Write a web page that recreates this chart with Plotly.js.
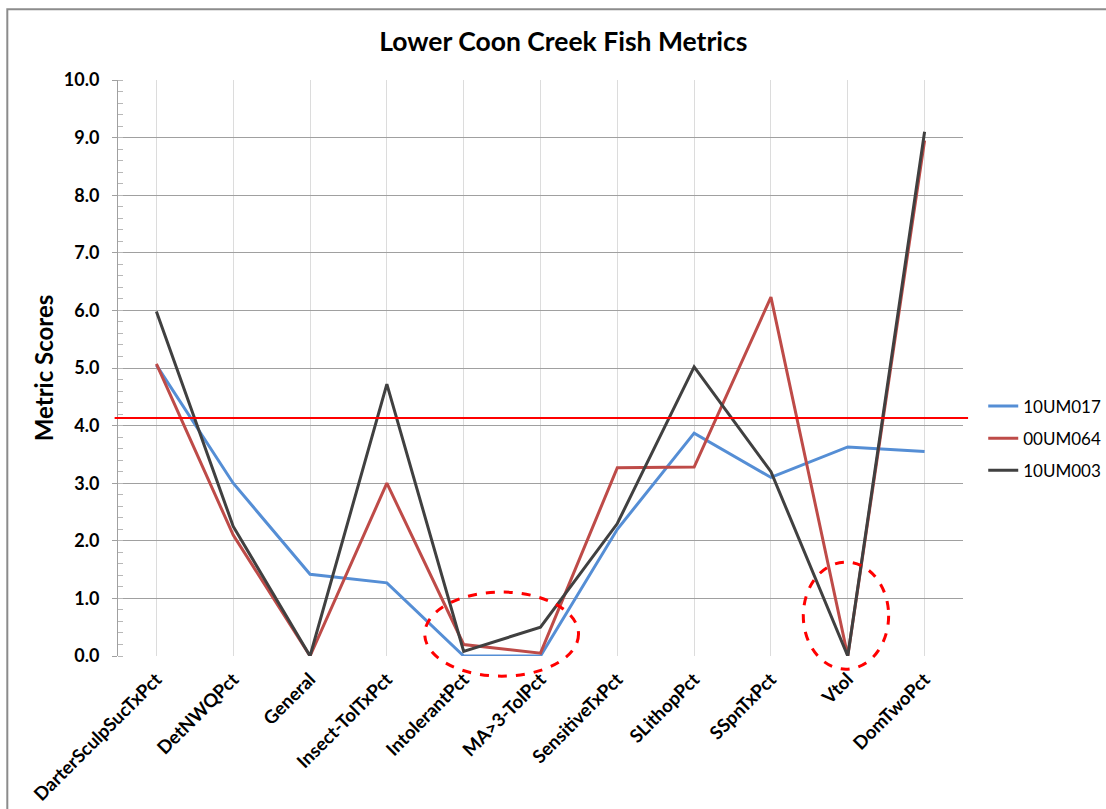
<!DOCTYPE html>
<html>
<head>
<meta charset="utf-8">
<script src="https://cdn.plot.ly/plotly-3.0.1.min.js"></script>
<style>html,body{margin:0;padding:0;background:#fff;}#chart{width:1106px;height:809px;}</style>
</head>
<body>
<div id="chart"></div>
<script>
const categories = ["DarterSculpSucTxPct","DetNWQPct","General","Insect-TolTxPct","IntolerantPct","MA>3-TolPct","SensitiveTxPct","SLithopPct","SSpnTxPct","Vtol","DomTwoPct"];
const s10UM017 = [5.05, 3.0, 1.42, 1.27, 0.0, 0.0, 2.2, 3.87, 3.1, 3.63, 3.55];
const s00UM064 = [5.07, 2.1, 0.0, 3.0, 0.2, 0.05, 3.27, 3.28, 6.23, 0.0, 8.95];
const s10UM003 = [5.98, 2.25, 0.0, 4.72, 0.08, 0.5, 2.3, 5.02, 3.2, 0.0, 9.1];
const seriesNames = ["10UM017","00UM064","10UM003"];
const threshold = 4.13;

const FONT = "Lato, 'Open Sans', sans-serif";
const colors = ["#558ED5", "#BE4B48", "#404040"];
const data = [s10UM017, s00UM064, s10UM003].map((v, i) => ({
  type: "scatter", mode: "lines", name: seriesNames[i], legendgroup: "g" + i,
  x: categories, y: v,
  line: {color: colors[i], width: 3}
}));

const layout = {
  width: 1106, height: 809,
  margin: {l: 118, r: 143, t: 80, b: 153},
  paper_bgcolor: "#fff", plot_bgcolor: "#fff",
  font: {family: FONT, color: "#000"},
  title: {text: "<b>Lower Coon Creek Fish Metrics</b>", font: {size: 26.5, family: FONT, color: "#000"},
          xref: "paper", x: 0.527, xanchor: "center", yref: "container", y: 0.948, yanchor: "middle"},
  showlegend: true,
  legend: {xref: "container", yref: "container", x: 0.889, xanchor: "left", y: 0.458, yanchor: "middle",
           font: {size: 17, family: FONT}, tracegroupgap: 7, itemwidth: 30, bgcolor: "rgba(0,0,0,0)"},
  xaxis: {type: "category", range: [-0.5, 10.5], showgrid: true, gridcolor: "#dcdcdc", gridwidth: 1,
          showline: false, zeroline: false, ticks: "", tickangle: -45, ticklabelstandoff: 8, automargin: false,
          tickfont: {size: 18.5, family: FONT, color: "#000", weight: "bold"}, fixedrange: true},
  yaxis: {range: [0, 10], dtick: 1, tickformat: ".1f", showgrid: true, gridcolor: "#a0a0a0", gridwidth: 1,
          showline: true, linecolor: "#a0a0a0", linewidth: 1, zeroline: false, automargin: false,
          ticks: "outside", ticklen: 5, tickcolor: "#a0a0a0", ticklabelstandoff: 9,
          minor: {dtick: 0.2, ticks: "inside", ticklen: 5, tickcolor: "#b8b8b8", showgrid: false},
          tickfont: {size: 18, family: FONT, color: "#000", weight: "bold"},
          title: {text: "<b>Metric Scores</b>", font: {size: 24, family: FONT, color: "#000"}, standoff: 3}},
  shapes: [
    {type: "line", xref: "paper", yref: "y", x0: -0.004, x1: 1.006, y0: threshold, y1: threshold,
     line: {color: "#FF0000", width: 2}},
    {type: "circle", xref: "paper", yref: "paper", x0: 0.363, x1: 0.545, y0: -0.035, y1: 0.111,
     line: {color: "#FF0000", width: 3, dash: "dash"}},
    {type: "circle", xref: "paper", yref: "paper", x0: 0.811, x1: 0.912, y0: -0.023, y1: 0.163,
     line: {color: "#FF0000", width: 3, dash: "dash"}},
    {type: "rect", xref: "paper", yref: "paper", x0: -0.131, x1: 1.5, y0: -0.6, y1: 1.123,
     line: {color: "#8c8c8c", width: 2}, layer: "below"}
  ]
};
Plotly.newPlot("chart", data, layout, {displayModeBar: false, staticPlot: true});
</script>
</body>
</html>
